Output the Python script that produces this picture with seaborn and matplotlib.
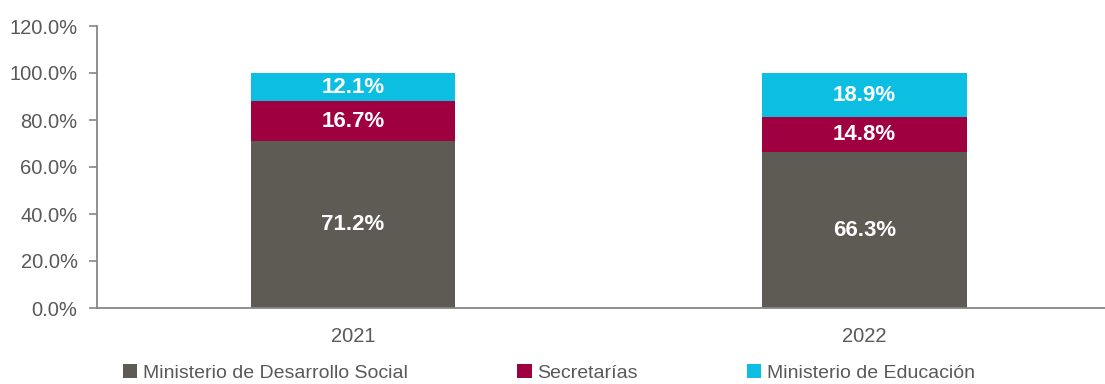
import matplotlib
matplotlib.use("Agg")
import matplotlib.pyplot as plt
import seaborn as sns
import pandas as pd
import numpy as np
from matplotlib.patches import Patch
from matplotlib.ticker import FuncFormatter

years = ["2021", "2022"]
series_names = ["Ministerio de Desarrollo Social", "Secretarías", "Ministerio de Educación"]
desarrollo = [71.2, 66.3]
secretarias = [16.7, 14.8]
educacion = [12.1, 18.9]
colors = ["#5E5A54", "#9E0040", "#0CBFE2"]

sns.set_theme(style="white")
plt.rcParams["font.family"] = ["Liberation Sans Narrow", "Liberation Sans", "DejaVu Sans"]

fig = plt.figure(figsize=(11.05, 3.84), dpi=100)
ax = fig.add_axes([97 / 1105, 1 - 308 / 384, 1 - 97 / 1105, (308 - 26) / 384])

values = [desarrollo, secretarias, educacion]
cum = np.cumsum(np.array(values), axis=0)

# draw from top-most cumulative down
for i in range(len(values) - 1, -1, -1):
    df = pd.DataFrame({"year": years, "value": cum[i]})
    sns.barplot(data=df, x="year", y="value", color=colors[i], width=0.4,
                saturation=1, ax=ax, linewidth=0)

for i, vals in enumerate(values):
    for j, v in enumerate(vals):
        mid = cum[i][j] - v / 2
        ax.text(j, mid, f"{v:.1f}%", ha="center", va="center", color="white",
                fontsize=16, fontweight="bold")

ax.set_ylim(0, 120)
ax.set_yticks(np.arange(0, 121, 20))
ax.yaxis.set_major_formatter(FuncFormatter(lambda v, p: f"{v:.1f}%"))
ax.set_xlim(-0.5, 1.47)
ax.set_xlabel("")
ax.set_ylabel("")

for s in ["top", "right"]:
    ax.spines[s].set_visible(False)
for s in ["left", "bottom"]:
    ax.spines[s].set_color("#868686")
    ax.spines[s].set_linewidth(1.3)

ax.tick_params(axis="y", left=True, length=6, width=1.2, color="#868686",
               labelsize=14.5, labelcolor="#595959", pad=8)
ax.tick_params(axis="x", bottom=False, labelsize=14.5, labelcolor="#595959", pad=8)

handles = [Patch(facecolor=c, edgecolor="none", label=n) for c, n in zip(colors, series_names)]
fig.legend(handles=handles, loc="lower left", bbox_to_anchor=(115 / 1105, -0.015), ncol=3,
           frameon=False, fontsize=14, labelcolor="#595959", handlelength=0.75,
           handleheight=0.75, handletextpad=0.3, columnspacing=5.6, borderaxespad=0)

fig.savefig("out.png", dpi=100)
